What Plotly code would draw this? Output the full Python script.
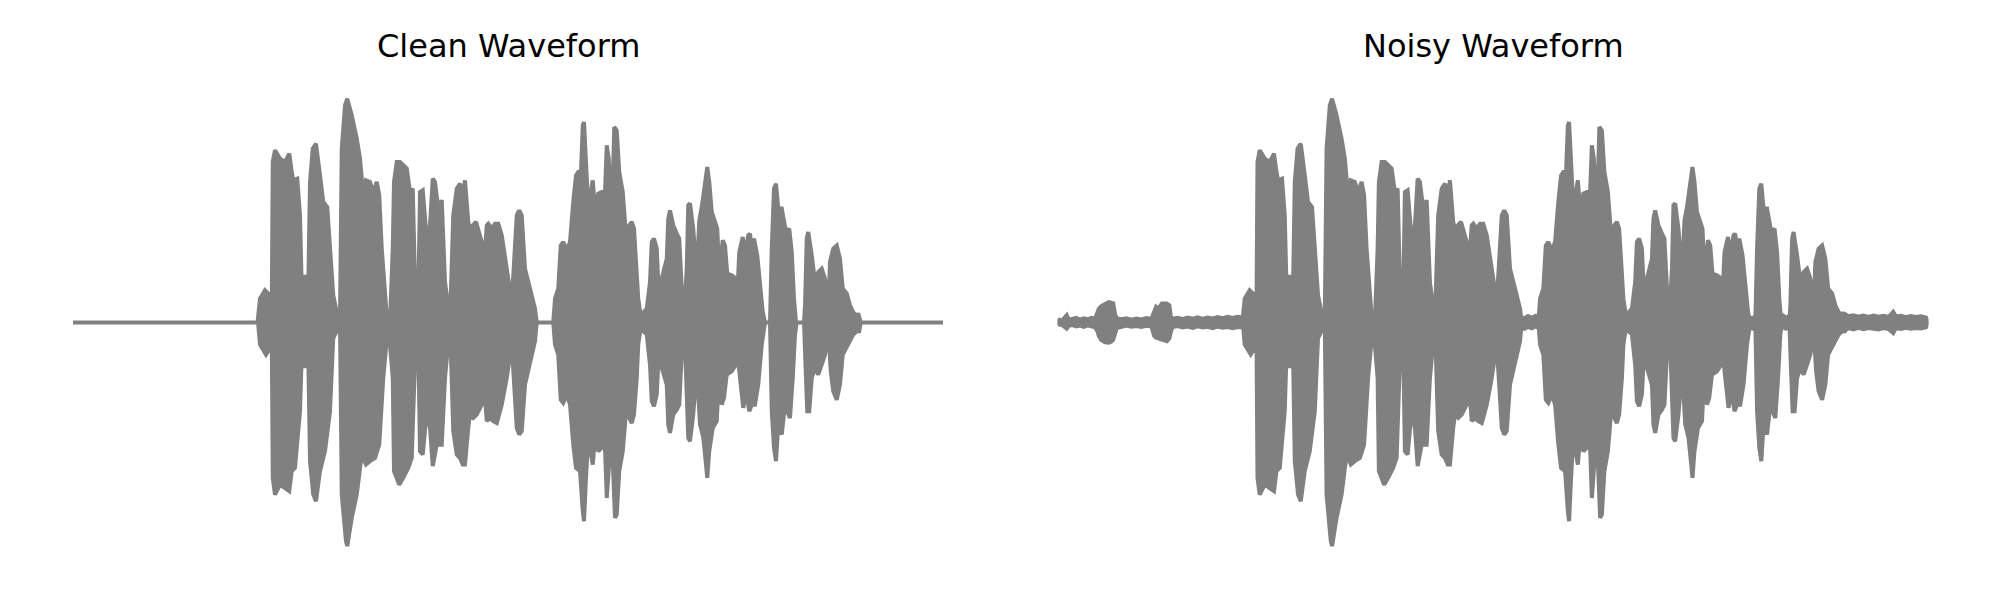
import plotly.graph_objects as go

# ---- Clean speech envelope (time in s, amplitude in full-scale units) ----
clean_up_t = [0.000, 0.738, 0.741, 0.748, 0.768, 0.788, 0.795, 0.799, 0.808, 0.828, 0.848, 0.865, 0.875, 0.881, 0.897,
              0.908, 0.915, 0.928, 0.941, 0.948, 0.959, 0.972, 0.988, 1.001, 1.017, 1.028, 1.041, 1.055, 1.068,
              1.075, 1.088, 1.097, 1.115, 1.135, 1.148, 1.161, 1.172, 1.188, 1.201, 1.215, 1.225, 1.235, 1.255,
              1.268, 1.279, 1.284, 1.295, 1.308, 1.321, 1.335, 1.348, 1.359, 1.368, 1.381, 1.388, 1.399, 1.415,
              1.428, 1.439, 1.448, 1.461, 1.475, 1.488, 1.508, 1.521, 1.535, 1.548, 1.559, 1.568, 1.581,
              1.588, 1.601, 1.612, 1.635, 1.644, 1.655, 1.661, 1.675, 1.688, 1.701, 1.715, 1.735, 1.755, 1.775,
              1.785, 1.795, 1.808, 1.828, 1.848, 1.855, 1.921, 1.928, 1.941, 1.951, 1.961, 1.975, 1.988, 2.001,
              2.012, 2.021, 2.032, 2.039, 2.044, 2.052, 2.061, 2.071, 2.079, 2.088, 2.101, 2.115, 2.128, 2.135,
              2.143, 2.151, 2.159, 2.165, 2.175, 2.185, 2.199, 2.208, 2.215, 2.225, 2.235, 2.244, 2.255, 2.261,
              2.271, 2.281, 2.295, 2.308, 2.315, 2.324, 2.335, 2.341, 2.355, 2.375, 2.381, 2.388, 2.401, 2.415,
              2.425, 2.435, 2.448, 2.455, 2.461, 2.468, 2.481, 2.495,
              2.505, 2.515, 2.528, 2.537, 2.545, 2.555, 2.568, 2.577, 2.585, 2.591, 2.599, 2.608, 2.617, 2.635,
              2.652, 2.657, 2.665, 2.679, 2.688, 2.701, 2.708, 2.715, 2.724, 2.737, 2.748, 2.759, 2.768, 2.788,
              2.795, 2.804, 2.812, 2.821, 2.835, 2.841, 2.852, 2.865, 2.875, 2.884, 2.892, 2.924, 2.928, 2.935,
              2.941, 2.955, 2.968, 2.981, 2.995, 3.008, 3.021, 3.028, 3.041, 3.055, 3.068, 3.079, 3.095, 3.108,
              3.121, 3.135, 3.141, 3.151, 3.480]
clean_up = [0.0, 0.0, 0.03, 0.105, 0.142, 0.12, 0.061, 0.71, 0.762, 0.725, 0.71, 0.747, 0.666, 0.629, 0.636,
            0.474, 0.157, 0.209, 0.15, 0.622, 0.769, 0.791, 0.651, 0.533, 0.511, 0.327, 0.12, 0.046, 0.03,
            0.769, 0.961, 0.99, 0.917, 0.813, 0.725, 0.563, 0.629, 0.622, 0.577, 0.622, 0.563, 0.327, 0.03,
            0.005, 0.327, 0.622, 0.71, 0.71, 0.695, 0.681, 0.577, 0.592, 0.179, 0.105, 0.577, 0.585, 0.371,
            0.43, 0.636, 0.622, 0.504, 0.541, 0.179, 0.01, 0.474, 0.592, 0.614, 0.563, 0.629, 0.445,
            0.415, 0.43, 0.445, 0.356, 0.253, 0.43, 0.437, 0.415, 0.437, 0.437, 0.386, 0.238, 0.091, 0.474,
            0.496, 0.474, 0.238, 0.15, 0.061, 0.0, 0.0, 0.105, 0.15, 0.341, 0.356, 0.319, 0.356, 0.533,
            0.651, 0.666, 0.666, 0.872, 0.887, 0.71, 0.504, 0.577, 0.629, 0.504, 0.57, 0.577, 0.577, 0.784,
            0.725, 0.533, 0.622, 0.865, 0.85, 0.666, 0.577, 0.445, 0.327, 0.43, 0.445, 0.415, 0.238, 0.105,
            0.03, 0.046, 0.061, 0.179, 0.356, 0.371, 0.327, 0.179, 0.194, 0.282, 0.459, 0.496, 0.43, 0.393,
            0.371, 0.15, 0.105, 0.238, 0.519, 0.526, 0.415, 0.209,
            0.45, 0.511, 0.622, 0.688, 0.622, 0.489, 0.445, 0.415, 0.223, 0.297, 0.364, 0.341, 0.216, 0.209,
            0.194, 0.12, 0.312, 0.378, 0.297, 0.386, 0.393, 0.327, 0.371, 0.297, 0.179, 0.046, 0.0, 0.0,
            0.327, 0.592, 0.614, 0.504, 0.504, 0.459, 0.4, 0.415, 0.312, 0.105, 0.0, 0.0, 0.076, 0.371,
            0.4, 0.297, 0.179, 0.223, 0.238, 0.194, 0.061, 0.268, 0.327, 0.341, 0.282, 0.15, 0.128, 0.076,
            0.046, 0.024, 0.04, 0.0, 0.0]

clean_lo_t = [0.000, 0.738, 0.741, 0.748, 0.772, 0.788, 0.795, 0.799, 0.808, 0.828, 0.848, 0.865, 0.875, 0.888, 0.908,
              0.915, 0.928, 0.941, 0.948, 0.961, 0.972, 0.988, 1.008, 1.028, 1.041, 1.055, 1.068, 1.075, 1.092,
              1.097, 1.115, 1.135, 1.155, 1.172, 1.188, 1.208, 1.225, 1.241, 1.261, 1.279, 1.284, 1.305, 1.321,
              1.341, 1.355, 1.368, 1.381, 1.388, 1.399, 1.415, 1.428, 1.439, 1.455, 1.475, 1.488, 1.508, 1.521,
              1.535, 1.548, 1.559, 1.568, 1.581,
              1.588, 1.601, 1.615, 1.635, 1.644, 1.655, 1.668, 1.681, 1.695, 1.715, 1.735, 1.755, 1.775, 1.785,
              1.795, 1.808, 1.828, 1.848, 1.855, 1.921, 1.928, 1.941, 1.951, 1.961, 1.975, 1.988, 2.001, 2.012,
              2.028, 2.039, 2.044, 2.052, 2.061, 2.071, 2.079, 2.088, 2.101, 2.115, 2.128, 2.135, 2.143, 2.151,
              2.159, 2.168, 2.175, 2.185, 2.199, 2.208, 2.215, 2.225, 2.235, 2.244, 2.255, 2.261, 2.271, 2.281,
              2.295, 2.308, 2.315, 2.324, 2.335, 2.341, 2.355, 2.375, 2.381, 2.388, 2.401, 2.415, 2.425, 2.435,
              2.448, 2.455, 2.461, 2.468, 2.481, 2.495,
              2.508, 2.521, 2.528, 2.537, 2.545, 2.559, 2.575, 2.585, 2.595, 2.604, 2.615, 2.635, 2.652, 2.657,
              2.668, 2.681, 2.692, 2.705, 2.715, 2.728, 2.741, 2.755, 2.768, 2.788, 2.795, 2.804, 2.812, 2.821,
              2.835, 2.848, 2.857, 2.868, 2.879, 2.888, 2.895, 2.924, 2.928, 2.937, 2.945, 2.955, 2.968, 2.981,
              2.995, 3.008, 3.021, 3.031, 3.041, 3.055, 3.068, 3.079, 3.095, 3.108, 3.121, 3.135, 3.145, 3.151,
              3.480]
clean_lo = [0.0, 0.0, -0.01, -0.098, -0.142, -0.113, -0.054, -0.688, -0.762, -0.718, -0.732, -0.747, -0.658, -0.644, -0.393,
            -0.142, -0.201, -0.142, -0.614, -0.762, -0.791, -0.658, -0.57, -0.393, -0.069, -0.039, -0.01, -0.762, -0.968,
            -0.99, -0.865, -0.762, -0.585, -0.629, -0.614, -0.6, -0.541, -0.246, -0.006, -0.246, -0.658, -0.718, -0.688,
            -0.644, -0.6, -0.172, -0.098, -0.57, -0.585, -0.393, -0.467, -0.636, -0.541, -0.541, -0.246, -0.006, -0.481,
            -0.585, -0.6, -0.629, -0.629, -0.467,
            -0.408, -0.423, -0.408, -0.364, -0.275, -0.437, -0.423, -0.437, -0.445, -0.364, -0.246, -0.098, -0.467, -0.496,
            -0.481, -0.275, -0.187, -0.083, 0.0, 0.0, -0.098, -0.142, -0.342, -0.356, -0.319, -0.364, -0.541, -0.644,
            -0.658, -0.835, -0.88, -0.688, -0.511, -0.57, -0.629, -0.511, -0.57, -0.555, -0.555, -0.777, -0.688, -0.526,
            -0.614, -0.865, -0.85, -0.658, -0.57, -0.452, -0.334, -0.423, -0.445, -0.408, -0.246, -0.098, -0.024, -0.039,
            -0.054, -0.187, -0.349, -0.371, -0.319, -0.187, -0.201, -0.275, -0.452, -0.489, -0.408, -0.386, -0.364, -0.142,
            -0.098, -0.246, -0.511, -0.526, -0.408, -0.201,
            -0.45, -0.511, -0.585, -0.688, -0.57, -0.467, -0.437, -0.216, -0.364, -0.334, -0.231, -0.216, -0.187, -0.128,
            -0.246, -0.378, -0.305, -0.393, -0.364, -0.364, -0.275, -0.098, 0.0, 0.0, -0.393, -0.555, -0.614, -0.452,
            -0.496, -0.364, -0.393, -0.423, -0.246, -0.054, 0.0, 0.0, -0.128, -0.393, -0.393, -0.246, -0.201, -0.231,
            -0.187, -0.142, -0.039, -0.216, -0.305, -0.342, -0.275, -0.142, -0.113, -0.083, -0.054, -0.039, -0.039, 0.0,
            0.0]

# ---- Background noise floor seen in the noisy recording ----
noise_t = [0.000, 0.008, 0.020, 0.037, 0.045, 0.060, 0.075, 0.090, 0.105, 0.120, 0.135, 0.150, 0.160, 0.165,
           0.175, 0.190, 0.205, 0.215, 0.223, 0.230, 0.237, 0.255, 0.275, 0.295, 0.315, 0.335, 0.355, 0.375,
           0.386, 0.394, 0.403, 0.417, 0.437, 0.447, 0.453, 0.460, 0.480, 0.500, 0.520, 0.540, 0.560, 0.580,
           0.600, 0.620, 0.640, 0.660, 0.680, 0.700, 0.720, 0.741, 0.900, 1.050, 1.060, 1.070, 1.250, 1.262,
           1.275, 1.500, 1.508, 1.516, 1.850, 1.865, 1.880, 1.895, 1.910, 1.925, 2.265, 2.275, 2.290, 2.765,
           2.778, 2.790, 2.890, 2.900, 2.910, 2.920, 3.143, 3.160, 3.180, 3.200, 3.220, 3.240, 3.260, 3.280,
           3.300, 3.320, 3.339, 3.350, 3.370, 3.390, 3.410, 3.430, 3.450, 3.470, 3.480]
noise_up = [0.0, 0.012, 0.010, 0.032, 0.012, 0.015, 0.020, 0.012, 0.018, 0.014, 0.020, 0.016, 0.040, 0.060,
            0.072, 0.080, 0.090, 0.088, 0.084, 0.035, 0.017, 0.014, 0.018, 0.012, 0.017, 0.013, 0.019, 0.015,
            0.054, 0.069, 0.061, 0.084, 0.084, 0.076, 0.024, 0.016, 0.020, 0.015, 0.022, 0.017, 0.023, 0.016,
            0.022, 0.018, 0.024, 0.019, 0.025, 0.020, 0.025, 0.022, 0.022, 0.025, 0.018, 0.026, 0.022, 0.030,
            0.020, 0.022, 0.030, 0.020, 0.025, 0.018, 0.028, 0.020, 0.030, 0.022, 0.025, 0.020, 0.028, 0.024,
            0.020, 0.028, 0.022, 0.030, 0.020, 0.026, 0.039, 0.028, 0.032, 0.025, 0.030, 0.024, 0.030, 0.025,
            0.029, 0.024, 0.047, 0.026, 0.029, 0.023, 0.028, 0.024, 0.027, 0.022, 0.0]
noise_lo = [0.0, -0.010, -0.012, -0.027, -0.015, -0.012, -0.018, -0.014, -0.020, -0.013, -0.018, -0.022, -0.040, -0.060,
            -0.078, -0.088, -0.090, -0.085, -0.075, -0.050, -0.025, -0.018, -0.014, -0.019, -0.016, -0.020, -0.015, -0.018,
            -0.060, -0.068, -0.072, -0.076, -0.083, -0.070, -0.040, -0.020, -0.016, -0.022, -0.018, -0.024, -0.017, -0.022,
            -0.019, -0.025, -0.018, -0.023, -0.020, -0.025, -0.020, -0.022, -0.022, -0.018, -0.026, -0.020, -0.024, -0.018,
            -0.028, -0.020, -0.026, -0.018, -0.022, -0.028, -0.020, -0.026, -0.018, -0.024, -0.020, -0.028, -0.021, -0.022,
            -0.028, -0.020, -0.026, -0.020, -0.028, -0.022, -0.039, -0.025, -0.031, -0.024, -0.030, -0.025, -0.028, -0.031,
            -0.025, -0.029, -0.047, -0.025, -0.029, -0.024, -0.028, -0.025, -0.027, -0.021, 0.0]

titles = ["Clean Waveform", "Noisy Waveform"]
WAVE = "#808080"


def closed(t_up, a_up, t_lo, a_lo):
    return list(t_up) + list(t_lo)[::-1], list(a_up) + list(a_lo)[::-1]


fig = go.Figure()

cx, cy = closed(clean_up_t, clean_up, clean_lo_t, clean_lo)
nx, ny = closed(noise_t, noise_up, noise_t, noise_lo)

style = dict(mode="lines", fill="toself", fillcolor=WAVE,
             line=dict(color=WAVE, width=4), hoverinfo="skip", showlegend=False)

fig.add_trace(go.Scatter(x=cx, y=cy, xaxis="x", yaxis="y", **style))
fig.add_trace(go.Scatter(x=nx, y=ny, xaxis="x2", yaxis="y2", **style))
fig.add_trace(go.Scatter(x=cx, y=cy, xaxis="x2", yaxis="y2", **style))

# the page body adds an 8px offset, compensated here
ydom = [0.0617, 0.8902]
xd1 = [0.0325, 0.4675]
xd2 = [0.52475, 0.96025]
ax_common = dict(visible=False, showgrid=False, zeroline=False, fixedrange=True)

fig.update_layout(
    width=2000, height=600,
    margin=dict(l=0, r=0, t=0, b=0),
    paper_bgcolor="white", plot_bgcolor="white",
    xaxis=dict(domain=xd1, range=[0, 3.48], anchor="y", **ax_common),
    yaxis=dict(domain=ydom, range=[-1.1, 1.1], anchor="x", **ax_common),
    xaxis2=dict(domain=xd2, range=[0, 3.48], anchor="y2", **ax_common),
    yaxis2=dict(domain=ydom, range=[-1.1, 1.1], anchor="x2", **ax_common),
    annotations=[
        dict(text=titles[0], x=(xd1[0] + xd1[1]) / 2, y=0.937, xref="paper", yref="paper",
             xanchor="center", yanchor="middle", showarrow=False,
             font=dict(family="DejaVu Sans", size=32, color="black")),
        dict(text=titles[1], x=(xd2[0] + xd2[1]) / 2, y=0.937, xref="paper", yref="paper",
             xanchor="center", yanchor="middle", showarrow=False,
             font=dict(family="DejaVu Sans", size=32, color="black")),
    ],
)

fig.write_html("out.html")
